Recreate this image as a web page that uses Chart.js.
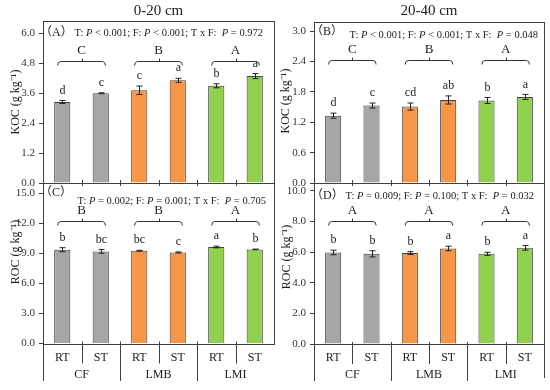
<!DOCTYPE html>
<html>
<head>
<meta charset="utf-8">
<script src="https://cdn.jsdelivr.net/npm/chart.js@4"></script>
<style>
  body { margin: 0; background: #fff; }
  #wrap { position: relative; width: 550px; height: 390px; }
  #wrap canvas { position: absolute; left: 0; top: 0; }
</style>
</head>
<body>
<div id="wrap">
  <canvas id="cA" width="550" height="390"></canvas>
  <canvas id="cB" width="550" height="390"></canvas>
  <canvas id="cC" width="550" height="390"></canvas>
  <canvas id="cD" width="550" height="390"></canvas>
</div>
<script>
// categories
const tillage = ['RT', 'ST', 'RT', 'ST', 'RT', 'ST'];
const fertGroups = ['CF', 'LMB', 'LMI'];
const barColors = ['#a6a6a6', '#a6a6a6', '#f79646', '#f79646', '#92d050', '#92d050'];

// KOC 0-20 cm (A)
const kocTop = [3.25, 3.60, 3.72, 4.12, 3.90, 4.29];
const kocTopErr = [0.06, 0.02, 0.17, 0.08, 0.08, 0.10];
const kocTopLetters = ['d', 'c', 'c', 'a', 'b', 'a'];
const kocTopGroup = ['C', 'B', 'A'];
const kocTopTicks = [0, 1.2, 2.4, 3.6, 4.8, 6.0];

// KOC 20-40 cm (B)
const kocSub = [1.33, 1.53, 1.51, 1.64, 1.63, 1.70];
const kocSubErr = [0.05, 0.05, 0.07, 0.08, 0.06, 0.05];
const kocSubLetters = ['d', 'c', 'cd', 'ab', 'b', 'a'];
const kocSubGroup = ['C', 'B', 'A'];
const kocSubTicks = [0, 0.6, 1.2, 1.8, 2.4, 3.0];

// ROC 0-20 cm (C)
const rocTop = [9.35, 9.18, 9.25, 9.08, 9.62, 9.38];
const rocTopErr = [0.20, 0.18, 0.04, 0.05, 0.08, 0.03];
const rocTopLetters = ['b', 'bc', 'bc', 'c', 'a', 'b'];
const rocTopGroup = ['B', 'B', 'A'];
const rocTopTicks = [0, 3, 6, 9, 12, 15];

// ROC 20-40 cm (D)
const rocSub = [5.97, 5.88, 5.93, 6.23, 5.88, 6.27];
const rocSubErr = [0.15, 0.20, 0.09, 0.15, 0.10, 0.15];
const rocSubLetters = ['b', 'b', 'b', 'a', 'b', 'a'];
const rocSubGroup = ['A', 'A', 'A'];
const rocSubTicks = [0, 2, 4, 6, 8, 10];

const SERIF = '"Liberation Serif", "Times New Roman", "Noto Sans CJK SC", serif';
const INK = '#404040';

function drawRich(ctx, parts, xRight, y, size) {
  let w = 0;
  parts.forEach(p => {
    ctx.font = (p.i ? 'italic ' : '') + size + 'px ' + SERIF;
    w += ctx.measureText(p.t).width;
  });
  let x = xRight - w;
  ctx.textAlign = 'left';
  ctx.textBaseline = 'middle';
  parts.forEach(p => {
    ctx.font = (p.i ? 'italic ' : '') + size + 'px ' + SERIF;
    ctx.fillText(p.t, x, y);
    x += ctx.measureText(p.t).width;
  });
}

function statParts(t, f, tf) {
  return [
    { t: 'T: ' }, { t: 'P', i: true }, { t: ' ' + t + '; F: ' },
    { t: 'P', i: true }, { t: ' ' + f + '; T x F:  ' },
    { t: 'P', i: true }, { t: ' ' + tf }
  ];
}

const panelPlugin = {
  id: 'panel',
  afterDatasetsDraw(chart, args, o) {
    const ctx = chart.ctx;
    const a = chart.chartArea;
    const xs = chart.scales.x, ys = chart.scales.y;
    const cw = xs.getPixelForValue(1) - xs.getPixelForValue(0);
    ctx.save();

    // frame
    ctx.strokeStyle = INK;
    ctx.lineWidth = 1;
    ctx.strokeRect(Math.round(a.left) + 0.5, Math.round(a.top) + 0.5,
      Math.round(a.right - a.left), Math.round(a.bottom - a.top));

    // error bars and letters
    ctx.fillStyle = '#222';
    o.values.forEach((v, i) => {
      const x = Math.round(xs.getPixelForValue(i)) + 0.5;
      const yHi = ys.getPixelForValue(v + o.err[i]);
      const yLo = ys.getPixelForValue(v - o.err[i]);
      ctx.strokeStyle = '#222';
      ctx.beginPath();
      ctx.moveTo(x, yHi); ctx.lineTo(x, yLo);
      ctx.moveTo(x - 3, yHi); ctx.lineTo(x + 3, yHi);
      ctx.moveTo(x - 3, yLo); ctx.lineTo(x + 3, yLo);
      ctx.stroke();
      ctx.font = '12px ' + SERIF;
      ctx.textAlign = 'center';
      ctx.textBaseline = 'middle';
      ctx.fillText(o.letters[i], x, yHi - 10);
    });

    // group brackets
    ctx.strokeStyle = '#333';
    o.group.forEach((g, k) => {
      const cx = (xs.getPixelForValue(2 * k) + xs.getPixelForValue(2 * k + 1)) / 2;
      const half = cw * 0.62;
      const y = o.bracketY + 0.5;
      ctx.beginPath();
      ctx.moveTo(cx - half, y + 4);
      ctx.quadraticCurveTo(cx - half, y, cx - half + 3, y);
      ctx.lineTo(cx + half - 3, y);
      ctx.quadraticCurveTo(cx + half, y, cx + half, y + 4);
      ctx.moveTo(Math.round(cx) + 0.5, y);
      ctx.lineTo(Math.round(cx) + 0.5, y - 3);
      ctx.stroke();
      ctx.font = '13px ' + SERIF;
      ctx.textAlign = 'center';
      ctx.textBaseline = 'middle';
      ctx.fillText(g, cx, o.bracketY - 10);
    });

    // panel label and statistics
    ctx.fillStyle = '#222';
    ctx.font = '12px ' + SERIF;
    ctx.textAlign = 'left';
    ctx.textBaseline = 'middle';
    ctx.fillText(o.label, a.left - 3, o.labelY);
    drawRich(ctx, o.stats, a.right - o.statPad, o.statY, 10.5);

    // y title
    ctx.save();
    ctx.translate(o.titleX, o.titleY);
    ctx.rotate(-Math.PI / 2);
    ctx.font = '12px ' + SERIF;
    ctx.textAlign = 'center';
    ctx.fillText(o.yTitle, 0, 0);
    ctx.restore();

    // depth heading
    if (o.heading) {
      ctx.font = '15px ' + SERIF;
      ctx.textAlign = 'center';
      ctx.fillText(o.heading, (a.left + a.right) / 2, 11);
    }

    // category separators
    ctx.strokeStyle = INK;
    ctx.beginPath();
    for (let i = 0; i < 5; i++) {
      const x = Math.round(xs.getPixelForValue(i + 0.5)) + 0.5;
      if (o.bottom) {
        const long = i % 2 === 1;
        ctx.moveTo(x, a.bottom - 2);
        ctx.lineTo(x, long ? o.longTo : a.bottom + 20);
      } else {
        ctx.moveTo(x, a.bottom - 3);
        ctx.lineTo(x, a.bottom + 3);
      }
    }
    if (o.bottom) {
      const xl = Math.round(a.left) + 0.5;
      ctx.moveTo(xl, a.bottom); ctx.lineTo(xl, o.longTo);
      if (o.rightExt) {
        const xr = Math.round(a.right) + 0.5;
        ctx.moveTo(xr, a.bottom); ctx.lineTo(xr, o.longTo - 3);
      }
    }
    ctx.stroke();

    // group labels
    if (o.bottom) {
      ctx.fillStyle = '#222';
      ctx.font = '12px ' + SERIF;
      ctx.textAlign = 'center';
      ctx.textBaseline = 'middle';
      fertGroups.forEach((g, k) => {
        const cx = (xs.getPixelForValue(2 * k) + xs.getPixelForValue(2 * k + 1)) / 2;
        ctx.fillText(g, cx, a.bottom + 31);
      });
    }
    ctx.restore();
  }
};

function makeChart(id, cfg) {
  const ticksList = cfg.ticks;
  return new Chart(document.getElementById(id), {
    type: 'bar',
    data: {
      labels: tillage,
      datasets: [{
        data: cfg.values,
        backgroundColor: barColors,
        borderColor: INK,
        borderWidth: 1,
        categoryPercentage: 1,
        barPercentage: 0.42
      }]
    },
    options: {
      responsive: false,
      animation: false,
      events: [],
      layout: { padding: cfg.padding },
      plugins: {
        legend: { display: false },
        tooltip: { enabled: false },
        panel: cfg.panel
      },
      scales: {
        x: {
          offset: true,
          grid: { display: false, drawTicks: false },
          border: { display: false },
          ticks: {
            display: cfg.bottom,
            color: '#222',
            padding: 7,
            font: { family: SERIF, size: 12 }
          },
          afterFit: s => { s.height = cfg.xHeight; }
        },
        y: {
          min: 0,
          max: cfg.max,
          grid: { drawOnChartArea: false, tickLength: 4, color: INK },
          border: { display: false },
          afterBuildTicks: s => { s.ticks = ticksList.map(v => ({ value: v })); },
          afterFit: s => { s.width = cfg.yWidth; },
          ticks: {
            color: '#333',
            padding: 4,
            font: { family: SERIF, size: 11 },
            callback: v => Number(v).toFixed(1)
          }
        }
      }
    },
    plugins: [panelPlugin]
  });
}

makeChart('cA', {
  values: kocTop, ticks: kocTopTicks, max: 6.5, bottom: false,
  padding: { left: 0, top: 21, right: 276, bottom: 200 }, xHeight: 7, yWidth: 43,
  panel: {
    values: kocTop, err: kocTopErr, letters: kocTopLetters, group: kocTopGroup,
    bracketY: 61, label: '（A）', labelY: 33,
    stats: statParts('< 0.001', '< 0.001', '= 0.972'), statPad: 11, statY: 33,
    yTitle: 'KOC (g kg⁻¹)', titleX: 16, titleY: 102, heading: '0-20 cm'
  }
});

makeChart('cB', {
  values: kocSub, ticks: kocSubTicks, max: 3.18, bottom: false,
  padding: { left: 275, top: 22, right: 6, bottom: 200 }, xHeight: 7, yWidth: 39,
  panel: {
    values: kocSub, err: kocSubErr, letters: kocSubLetters, group: kocSubGroup,
    bracketY: 60, label: '（B）', labelY: 32,
    stats: statParts('< 0.001', '< 0.001', '= 0.048'), statPad: 6, statY: 35,
    yTitle: 'KOC (g kg⁻¹)', titleX: 286, titleY: 101, heading: '20-40 cm'
  }
});

makeChart('cC', {
  values: rocTop, ticks: rocTopTicks, max: 16, bottom: true,
  padding: { left: 0, top: 183, right: 276, bottom: 0 }, xHeight: 46.5, yWidth: 43,
  panel: {
    values: rocTop, err: rocTopErr, letters: rocTopLetters, group: rocTopGroup,
    bracketY: 221, label: '（C）', labelY: 193,
    stats: statParts('= 0.002', '= 0.001', '= 0.705'), statPad: 8, statY: 201,
    yTitle: 'ROC (g kg⁻¹)', titleX: 16, titleY: 252,
    bottom: true, longTo: 381, rightExt: false
  }
});

makeChart('cD', {
  values: rocSub, ticks: rocSubTicks, max: 10.5, bottom: true,
  padding: { left: 275, top: 183, right: 6, bottom: 0 }, xHeight: 46, yWidth: 39,
  panel: {
    values: rocSub, err: rocSubErr, letters: rocSubLetters, group: rocSubGroup,
    bracketY: 221, label: '（D）', labelY: 196,
    stats: statParts('= 0.009', '= 0.100', '= 0.032'), statPad: 10, statY: 196,
    yTitle: 'ROC (g kg⁻¹)', titleX: 287, titleY: 257,
    bottom: true, longTo: 381, rightExt: true
  }
});
</script>
</body>
</html>
